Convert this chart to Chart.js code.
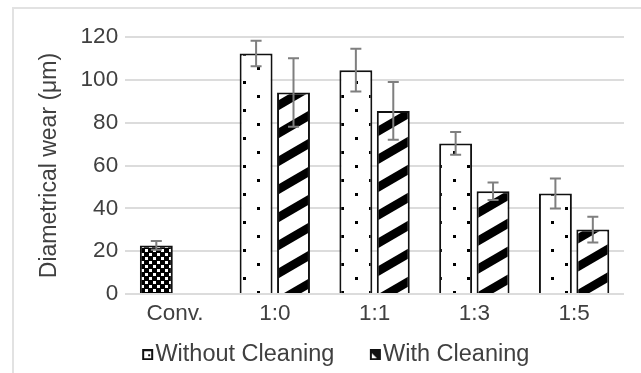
<!DOCTYPE html>
<html>
<head>
<meta charset="utf-8">
<script src="https://cdn.jsdelivr.net/npm/chart.js@4"></script>
<style>
  html, body { margin: 0; padding: 0; background: #fff; }
  #wrap { position: relative; width: 641px; height: 373px; overflow: hidden; }
  #frame { position: absolute; left: 12px; top: 7px; width: 700px; height: 420px;
           border: 2px solid #e2e2e2; box-sizing: border-box; pointer-events: none; }
  canvas { position: absolute; left: 0; top: 0; }
</style>
</head>
<body>
<div id="wrap">
  <div id="frame"></div>
  <canvas id="chart" width="641" height="373"></canvas>
</div>
<script>
// Diametrical wear per mixing ratio, with and without cleaning
const categories = ['Conv.', '1:0', '1:1', '1:3', '1:5'];
const withoutCleaning = [22.7, 112.3, 104.5, 70.3, 46.9];
const withoutCleaningErr = [2, 6, 10, 5.3, 7];
const withCleaning = [null, 94.1, 85.5, 48, 30.1];
const withCleaningErr = [null, 16, 13.5, 4.1, 6];
const seriesNames = ['Without Cleaning', 'With Cleaning'];
const yTicks = [0, 20, 40, 60, 80, 100, 120];

const FONT = 'Liberation Sans, Arial, sans-serif';
const INK = '#404040';

function tile(w, h, paint) {
  const c = document.createElement('canvas');
  c.width = w; c.height = h;
  const g = c.getContext('2d');
  paint(g, w, h);
  return c;
}

// sparse dot fill
const dotTile = tile(28, 28, (g, w, h) => {
  g.fillStyle = '#fff'; g.fillRect(0, 0, w, h);
  g.fillStyle = '#000';
  g.fillRect(19, 25, 3, 3);
  g.fillRect(5, 11, 3, 3);
});

// wide upward diagonal stripes
const stripeTile = tile(48, 28, (g, w, h) => {
  g.fillStyle = '#fff'; g.fillRect(0, 0, w, h);
  g.fillStyle = '#000';
  const c = 15.8, t = 10;
  for (let k = -1; k <= 2; k++) {
    const y0 = c + k * h;
    g.beginPath();
    g.moveTo(0, y0 - t / 2);
    g.lineTo(w, y0 - h - t / 2);
    g.lineTo(w, y0 - h + t / 2);
    g.lineTo(0, y0 + t / 2);
    g.closePath();
    g.fill();
  }
});

// small checker fill for the conventional sample
const checkTile = tile(8, 8, (g, w, h) => {
  g.fillStyle = '#000'; g.fillRect(0, 0, w, h);
  g.fillStyle = '#fff';
  g.fillRect(1, 1, 3, 3);
  g.fillRect(5, 5, 3, 3);
});

const ctx = document.getElementById('chart').getContext('2d');
const dotFill = ctx.createPattern(dotTile, 'repeat');
const stripeFill = ctx.createPattern(stripeTile, 'repeat');
const checkFill = ctx.createPattern(checkTile, 'repeat');

// legend icons: box drawn at the right end so it sits close to its text
const legendIcons = [
  tile(48, 11, (g) => {
    g.fillStyle = '#111'; g.fillRect(36, 0, 11, 11);
    g.fillStyle = '#fff'; g.fillRect(38, 2, 7, 7);
    g.fillStyle = '#111'; g.fillRect(42, 5, 2, 2);
  }),
  tile(48, 11, (g) => {
    g.fillStyle = '#111'; g.fillRect(36, 0, 11, 11);
    g.fillStyle = '#fff';
    g.beginPath(); g.moveTo(38, 9); g.lineTo(38, 4); g.lineTo(43, 9); g.closePath(); g.fill();
  })
];

const errorSets = [withoutCleaningErr, withCleaningErr];

// whiskers drawn through the value scale
const errorBars = {
  id: 'errorBars',
  afterDatasetsDraw(chart) {
    const y = chart.scales.y;
    const g = chart.ctx;
    g.save();
    g.strokeStyle = '#7f7f7f';
    g.lineWidth = 2;
    chart.data.datasets.forEach((ds, i) => {
      const meta = chart.getDatasetMeta(i);
      meta.data.forEach((bar, j) => {
        const v = ds.data[j];
        const e = errorSets[i][j];
        if (v == null || e == null) return;
        const top = y.getPixelForValue(v + e);
        const bot = y.getPixelForValue(v - e);
        const cx = bar.x, half = 5.5;
        g.beginPath();
        g.moveTo(cx, top); g.lineTo(cx, bot);
        g.moveTo(cx - half, top); g.lineTo(cx + half, top);
        g.moveTo(cx - half, bot); g.lineTo(cx + half, bot);
        g.stroke();
      });
    });
    g.restore();
  }
};

new Chart(ctx, {
  type: 'bar',
  data: {
    labels: categories,
    datasets: [
      {
        label: seriesNames[0],
        data: withoutCleaning,
        backgroundColor: categories.map((c, i) => i === 0 ? checkFill : dotFill),
        borderColor: '#111',
        borderWidth: 2,
        categoryPercentage: 0.75,
        barPercentage: 0.88
      },
      {
        label: seriesNames[1],
        data: withCleaning,
        backgroundColor: stripeFill,
        borderColor: '#111',
        borderWidth: 2,
        categoryPercentage: 0.75,
        barPercentage: 0.88
      }
    ]
  },
  options: {
    responsive: false,
    animation: false,
    events: [],
    layout: { padding: { left: 22, right: 17, top: 37, bottom: 0 } },
    scales: {
      x: {
        grid: { display: false, drawTicks: false },
        border: { display: false },
        ticks: { color: INK, padding: 6, font: { family: FONT, size: 22.5 } }
      },
      y: {
        min: 0, max: 120,
        afterBuildTicks(scale) { scale.ticks = yTicks.map(v => ({ value: v })); },
        grid: { color: '#dcdcdc', lineWidth: 2, drawTicks: false },
        border: { display: false },
        ticks: { color: INK, padding: 7, font: { family: FONT, size: 22.5 } },
        title: {
          display: true,
          text: 'Diametrical wear (μm)',
          color: INK,
          font: { family: FONT, size: 23 },
          padding: { top: 14, bottom: 10 }
        }
      }
    },
    plugins: {
      tooltip: { enabled: false },
      legend: {
        position: 'bottom',
        maxHeight: 40,
        labels: {
          usePointStyle: true,
          pointStyleWidth: 27,
          padding: 10,
          color: INK,
          font: { family: FONT, size: 23.5 },
          generateLabels(chart) {
            return chart.data.datasets.map((ds, i) => ({
              text: ds.label,
              pointStyle: legendIcons[i],
              fillStyle: 'rgba(0,0,0,0)',
              strokeStyle: 'rgba(0,0,0,0)',
              lineWidth: 0,
              fontColor: INK,
              hidden: false,
              datasetIndex: i
            }));
          }
        }
      }
    }
  },
  plugins: [errorBars]
});
</script>
</body>
</html>
